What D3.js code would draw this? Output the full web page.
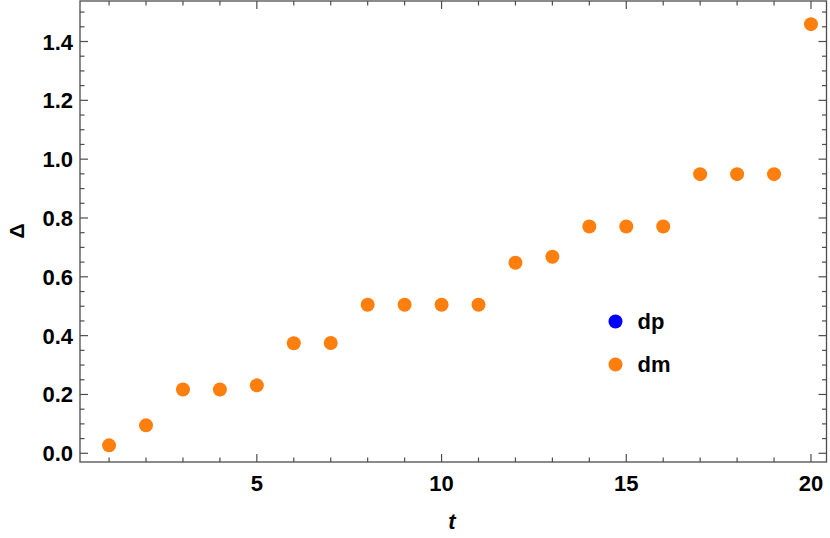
<!DOCTYPE html>
<html><head><meta charset="utf-8">
<script src="https://cdn.jsdelivr.net/npm/d3@7/dist/d3.min.js"></script>
<style>body{margin:0;background:#fff}svg{display:block}</style>
</head><body><svg id="c" width="830" height="538"></svg>
<script>
const tValues = [1,2,3,4,5,6,7,8,9,10,11,12,13,14,15,16,17,18,19,20];
const dmValues = [0.027,0.095,0.217,0.217,0.231,0.374,0.375,0.505,0.505,0.505,0.505,0.648,0.668,0.771,0.771,0.771,0.949,0.949,0.949,1.459];
const dpValues = [0.027,0.095,0.217,0.217,0.231,0.374,0.375,0.505,0.505,0.505,0.505,0.648,0.668,0.771,0.771,0.771,0.949,0.949,0.949,1.459];
const xMajor = [5,10,15,20];
const yMajor = [0,0.2,0.4,0.6,0.8,1.0,1.2,1.4];
const seriesNames = ["dp","dm"];
const seriesColors = ["#0000ff","#ff7f0e"];

const svg = d3.select("#c");
const L=80,R=826.5,T=1,B=462;
const x = d3.scaleLinear().domain([0.213,20.42]).range([L,R]);
const y = d3.scaleLinear().domain([-0.0296,1.5377]).range([B,T]);
const fontF = "'Liberation Sans', Arial, sans-serif";
const frameCol = "#4d4d4d";

const xMinor = d3.range(1,21);
const yMinor = d3.range(0,31).map(d=>d*0.05).filter(v=>v<=1.53);

const g = svg.append("g");
g.append("rect").attr("x",L).attr("y",T).attr("width",R-L).attr("height",B-T)
 .attr("fill","none").attr("stroke",frameCol).attr("stroke-width",1.3);

function isMajorX(v){return xMajor.includes(v);}
function isMajorY(v){return yMajor.some(m=>Math.abs(m-v)<1e-6);}
xMinor.forEach(v=>{
  const len = isMajorX(v)?8:4.5;
  g.append("line").attr("x1",x(v)).attr("x2",x(v)).attr("y1",B).attr("y2",B-len).attr("stroke",frameCol).attr("stroke-width",1.2);
  g.append("line").attr("x1",x(v)).attr("x2",x(v)).attr("y1",T).attr("y2",T+len).attr("stroke",frameCol).attr("stroke-width",1.2);
});
yMinor.forEach(v=>{
  const len = isMajorY(v)?8:4.5;
  g.append("line").attr("y1",y(v)).attr("y2",y(v)).attr("x1",L).attr("x2",L+len).attr("stroke",frameCol).attr("stroke-width",1.2);
  g.append("line").attr("y1",y(v)).attr("y2",y(v)).attr("x1",R).attr("x2",R-len).attr("stroke",frameCol).attr("stroke-width",1.2);
});
xMajor.forEach(v=>{
  g.append("text").attr("x",x(v)).attr("y",B+29).attr("text-anchor","middle")
   .attr("font-family",fontF).attr("font-weight","bold").attr("font-size",22).text(v);
});
yMajor.forEach(v=>{
  g.append("text").attr("x",L-7).attr("y",y(v)+8).attr("text-anchor","end")
   .attr("font-family",fontF).attr("font-weight","bold").attr("font-size",22).text(d3.format(".1f")(v));
});
svg.append("text").attr("x",452).attr("y",529).attr("text-anchor","middle")
  .attr("font-family",fontF).attr("font-weight","bold").attr("font-style","italic").attr("font-size",22).text("t");
svg.append("text").attr("transform",`translate(24,231) rotate(-90)`).attr("text-anchor","middle")
  .attr("font-family",fontF).attr("font-weight","bold").attr("font-size",21).text("Δ");

// points: dp drawn first, hidden beneath dm
[dpValues,dmValues].forEach((vals,i)=>{
  svg.append("g").selectAll("circle").data(vals).join("circle")
    .attr("cx",(d,j)=>x(tValues[j])).attr("cy",d=>y(d)).attr("r",i===0?6:7)
    .attr("fill",seriesColors[i]);
});

const leg = svg.append("g").attr("transform","translate(615.5,321.5)");
seriesNames.forEach((n,i)=>{
  leg.append("circle").attr("cx",0).attr("cy",i*43).attr("r",7).attr("fill",seriesColors[i]);
  leg.append("text").attr("x",22).attr("y",i*43+7).attr("font-family",fontF).attr("font-weight","bold")
    .attr("font-size",22).text(n);
});
</script></body></html>
